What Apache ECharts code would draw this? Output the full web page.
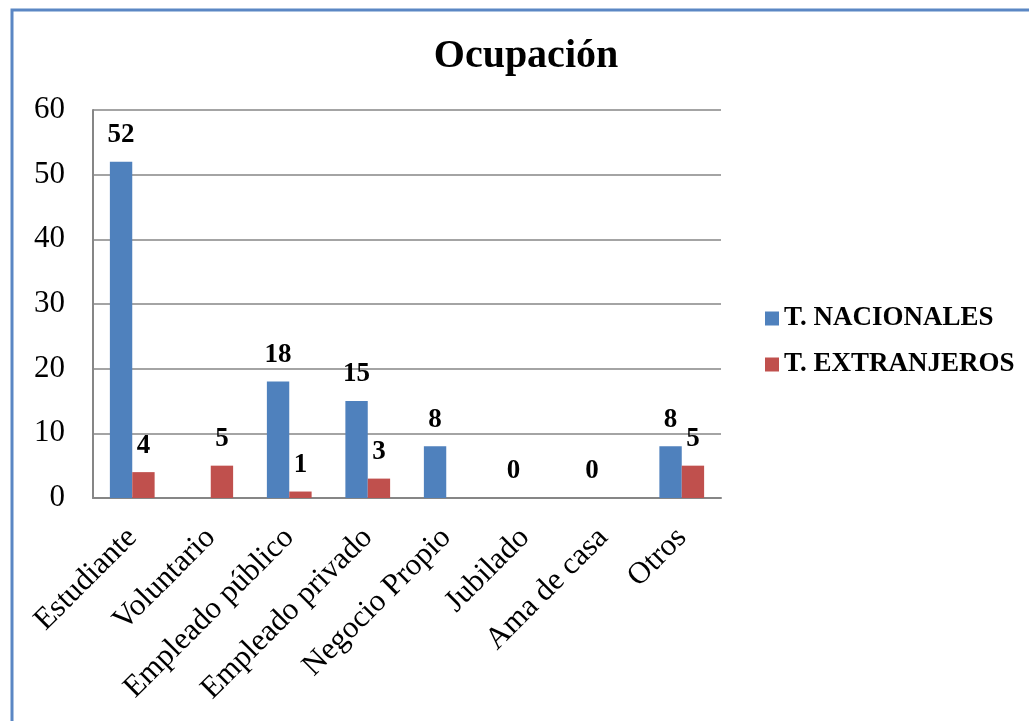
<!DOCTYPE html>
<html>
<head>
<meta charset="utf-8">
<script src="https://cdn.jsdelivr.net/npm/echarts@6/dist/echarts.min.js"></script>
<style>
html,body{margin:0;padding:0;background:#fff;}
#chart{width:1029px;height:721px;}
</style>
</head>
<body>
<div id="chart"></div>
<script>
const categories = ['Estudiante', 'Voluntario', 'Empleado público', 'Empleado privado', 'Negocio Propio', 'Jubilado', 'Ama de casa', 'Otros'];
const nacionales = [52, null, 18, 15, 8, 0, 0, 8];
const extranjeros = [4, 5, 1, 3, null, null, null, 5];
const yTicks = [0, 10, 20, 30, 40, 50, 60];

const serif = '"Liberation Serif", "DejaVu Serif", serif';
const chart = echarts.init(document.getElementById('chart'));
const labelStyle = {
  show: true, position: 'top', distance: 13,
  fontFamily: serif, fontWeight: 'bold', fontSize: 27, color: '#000'
};
chart.setOption({
  animation: false,
  backgroundColor: '#fff',
  title: {
    text: 'Ocupación', left: 521, top: 32, textAlign: 'center',
    textStyle: { fontFamily: serif, fontWeight: 'bold', fontSize: 40, color: '#000' }
  },
  graphic: [{
    type: 'rect', silent: true,
    shape: { x: 12, y: 10, width: 2000, height: 2000 },
    style: { fill: 'none', stroke: '#5b87c4', lineWidth: 3 }
  }],
  legend: {
    orient: 'vertical', left: 760, top: 300, itemWidth: 14, itemHeight: 14, itemGap: 19,
    icon: 'rect',
    textStyle: { fontFamily: serif, fontWeight: 'bold', fontSize: 27, color: '#000' },
    data: ['T. NACIONALES', 'T. EXTRANJEROS']
  },
  grid: { left: 93, top: 110, right: 308, bottom: 223, containLabel: false },
  xAxis: {
    type: 'category', data: categories,
    axisLine: { lineStyle: { color: '#868686', width: 2 } },
    axisTick: { show: false },
    axisLabel: { rotate: 45, margin: 35, interval: 0, fontFamily: serif, fontSize: 31, color: '#000' }
  },
  yAxis: {
    type: 'value', min: yTicks[0], max: yTicks[yTicks.length - 1], interval: 10,
    axisLine: { show: true, lineStyle: { color: '#868686', width: 2 } },
    axisTick: { show: false },
    splitLine: { lineStyle: { color: '#868686', width: 1.5 } },
    axisLabel: { margin: 28, fontFamily: serif, fontSize: 31, color: '#000' }
  },
  series: [
    { name: 'T. NACIONALES', type: 'bar', data: nacionales, barGap: '0%', barCategoryGap: '43%',
      itemStyle: { color: '#4f81bd' }, label: labelStyle },
    { name: 'T. EXTRANJEROS', type: 'bar', data: extranjeros, barGap: '0%', barCategoryGap: '43%',
      itemStyle: { color: '#c0504d' }, label: labelStyle }
  ]
});
</script>
</body>
</html>
